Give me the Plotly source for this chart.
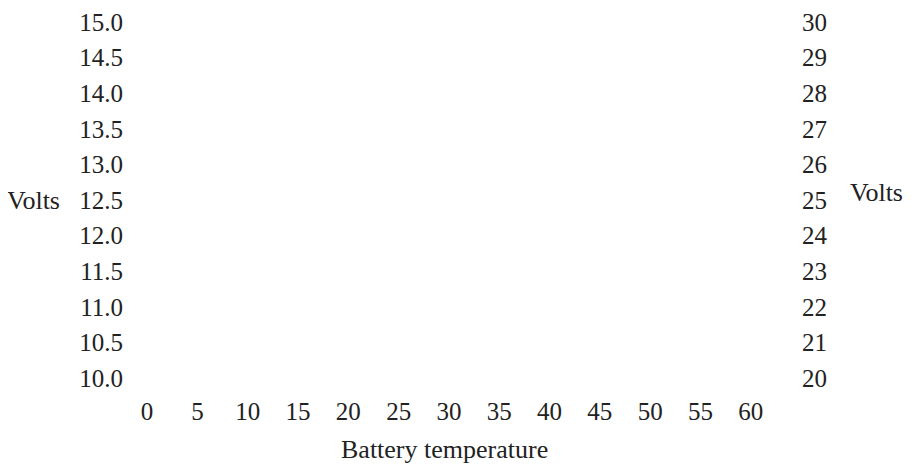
import plotly.graph_objects as go

# ---------------------------------------------------------------
# data (the chart has no plotted series, only the axes)
# ---------------------------------------------------------------
temperature_ticks = [0, 5, 10, 15, 20, 25, 30, 35, 40, 45, 50, 55, 60]
volts_12v_ticks = [10.0, 10.5, 11.0, 11.5, 12.0, 12.5, 13.0, 13.5, 14.0, 14.5, 15.0]
volts_24v_ticks = [20, 21, 22, 23, 24, 25, 26, 27, 28, 29, 30]

FONT = 'Liberation Serif'
TEXT_COLOR = '#222222'
TICK_FONT = dict(family=FONT, size=25, color=TEXT_COLOR)
TITLE_FONT = dict(family=FONT, size=26, color=TEXT_COLOR)

# ---------------------------------------------------------------
# build the figure
# (the page body has an 8px margin, so the figure is 16px smaller)
# ---------------------------------------------------------------
fig = go.Figure()

# empty traces so that both y axes are shown
fig.add_trace(go.Scatter(x=[], y=[], mode='lines', name='12 V', yaxis='y'))
fig.add_trace(go.Scatter(x=[], y=[], mode='lines', name='24 V', yaxis='y2'))

fig.update_layout(
  width=896,
  height=457,
  paper_bgcolor='white',
  plot_bgcolor='white',
  showlegend=False,
  font=dict(family=FONT, size=22, color=TEXT_COLOR),
  margin=dict(l=119, r=113, t=14, b=87, autoexpand=False),
  xaxis=dict(
    range=[-2, 64],
    tickvals=temperature_ticks,
    ticktext=[str(t) for t in temperature_ticks],
    tickfont=TICK_FONT,
    showgrid=False, zeroline=False, showline=False,
    ticklabelstandoff=16,
  ),
  yaxis=dict(
    range=[10, 15],
    tickvals=volts_12v_ticks,
    ticktext=['%.1f' % v for v in volts_12v_ticks],
    tickfont=TICK_FONT,
    showgrid=False, zeroline=False, showline=False,
    ticklabelstandoff=3,
  ),
  yaxis2=dict(
    range=[20, 30],
    tickvals=volts_24v_ticks,
    ticktext=[str(v) for v in volts_24v_ticks],
    tickfont=TICK_FONT,
    overlaying='y', side='right',
    showgrid=False, zeroline=False, showline=False,
    ticklabelstandoff=10,
  ),
)

# axis titles as annotations (unrotated, and the x title sits a bit left of centre)
fig.add_annotation(text='Battery temperature', xref='paper', yref='paper',
                   x=0.4782, y=-0.20, xanchor='center', yanchor='middle',
                   showarrow=False, font=TITLE_FONT)
fig.add_annotation(text='Volts', xref='paper', yref='paper', x=-0.1401, y=0.5,
                   xanchor='center', yanchor='middle', showarrow=False,
                   font=TITLE_FONT)
fig.add_annotation(text='Volts', xref='paper', yref='paper', x=1.172, y=0.522,
                   xanchor='right', yanchor='middle', showarrow=False,
                   font=TITLE_FONT)

fig.write_html('out.html')
